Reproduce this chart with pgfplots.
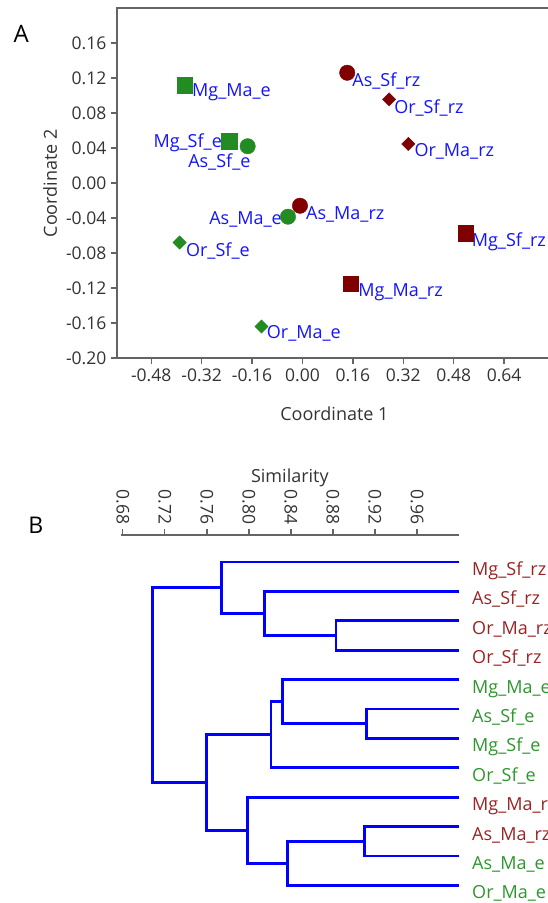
\documentclass[border=0pt]{standalone}
\usepackage{pgfplots}
\usepackage{pgfplotstable}
\pgfplotsset{compat=1.18}
\usepackage{fontspec}
\setmainfont{Open Sans}
\definecolor{mred}{RGB}{128,0,0}
\definecolor{mgreen}{RGB}{34,139,34}
\definecolor{lblue}{RGB}{20,20,255}
\definecolor{tred}{RGB}{155,35,35}
\definecolor{tgreen}{RGB}{45,150,45}
\definecolor{axgray}{RGB}{100,100,100}
\newcommand{\lf}{\fontsize{18}{21}\selectfont}
\newcommand{\tf}{\fontsize{17.5}{20}\selectfont}

\pgfplotstableread{
x y
-0.373 0.112
-0.233 0.048
}\greensq
\pgfplotstableread{
x y
-0.174 0.042
-0.046 -0.0385
}\greenci
\pgfplotstableread{
x y
-0.390 -0.068
-0.130 -0.164
}\greendi
\pgfplotstableread{
x y
0.518 -0.0575
0.153 -0.115
}\redsq
\pgfplotstableread{
x y
0.142 0.126
-0.008 -0.026
}\redci
\pgfplotstableread{
x y
0.275 0.0956
0.336 0.0446
}\reddi

\tikzset{lb/.style={text=lblue, font=\lf, inner sep=0pt},
 dend/.style={blue, line width=2.8pt, mark=none, solid, line join=miter}}

\begin{document}
\begin{tikzpicture}
\node[font=\fontsize{24}{28}\selectfont] at (21.3pt,-33.7pt) {A};
\node[font=\fontsize{23}{28}\selectfont] at (35.8pt,-525.6pt) {B};

\begin{axis}[
 at={(116.9pt,-358pt)}, anchor=south west,
 scale only axis, width=435.1pt, height=349.7pt,
 xmin=-0.589, xmax=0.792, ymin=-0.2, ymax=0.19966,
 xtick={-0.48,-0.32,-0.16,0,0.16,0.32,0.48,0.64},
 ytick={-0.20,-0.16,-0.12,-0.08,-0.04,0,0.04,0.08,0.12,0.16},
 tick pos=left, tick align=outside, major tick length=6pt,
 axis line style={axgray, line width=2pt},
 tick style={axgray, line width=1.3pt},
 ticklabel style={font=\tf, text=black!80},
 yticklabel style={xshift=-1pt},
 xticklabel style={yshift=-1pt},
 xlabel={Coordinate 1}, ylabel={Coordinate 2},
 label style={font=\lf, text=black!80},
 xlabel style={at={(axis description cs:0.5,-0.1584)}, anchor=center},
 ylabel style={at={(axis description cs:-0.1537,0.5)}, anchor=center},
 clip=false,
 /pgf/number format/fixed, /pgf/number format/fixed zerofill,
 /pgf/number format/precision=2, /pgf/number format/assume math mode=true,
]
\addplot[only marks, mark=square*, mark size=7.7pt, mgreen] table {\greensq};
\addplot[only marks, mark=*, mark size=7.7pt, mgreen] table {\greenci};
\addplot[only marks, mark=square*, mark size=4.7pt, mark options={rotate=45}, mgreen] table {\greendi};
\addplot[only marks, mark=square*, mark size=7.7pt, mred] table {\redsq};
\addplot[only marks, mark=*, mark size=7.7pt, mred] table {\redci};
\addplot[only marks, mark=square*, mark size=4.7pt, mark options={rotate=45}, mred] table {\reddi};
\node[lb, anchor=west, xshift=7pt, yshift=-7pt] at (axis cs:-0.373,0.112) {Mg\_Ma\_e};
\node[lb, anchor=east, xshift=-7pt, yshift=-2pt] at (axis cs:-0.233,0.048) {Mg\_Sf\_e};
\node[lb, anchor=east, xshift=3pt, yshift=-16pt] at (axis cs:-0.174,0.042) {As\_Sf\_e};
\node[lb, anchor=east, xshift=-6pt, yshift=-2.6pt] at (axis cs:-0.046,-0.0385) {As\_Ma\_e};
\node[lb, anchor=west, xshift=6.3pt, yshift=-8pt] at (axis cs:-0.390,-0.068) {Or\_Sf\_e};
\node[lb, anchor=west, xshift=5.2pt, yshift=-7.3pt] at (axis cs:-0.130,-0.164) {Or\_Ma\_e};
\node[lb, anchor=west, xshift=6pt, yshift=-8pt] at (axis cs:0.518,-0.0575) {Mg\_Sf\_rz};
\node[lb, anchor=west, xshift=7.6pt, yshift=-9pt] at (axis cs:0.153,-0.115) {Mg\_Ma\_rz};
\node[lb, anchor=west, xshift=5pt, yshift=-8pt] at (axis cs:0.142,0.126) {As\_Sf\_rz};
\node[lb, anchor=west, xshift=6pt, yshift=-9pt] at (axis cs:-0.008,-0.026) {As\_Ma\_rz};
\node[lb, anchor=west, xshift=5pt, yshift=-9pt] at (axis cs:0.275,0.0956) {Or\_Sf\_rz};
\node[lb, anchor=west, xshift=6pt, yshift=-7.7pt] at (axis cs:0.336,0.0446) {Or\_Ma\_rz};
\end{axis}

\begin{axis}[
 at={(120.7pt,-900.1pt)}, anchor=south west,
 scale only axis, width=338.3pt, height=365.1pt,
 xmin=0.678, xmax=1.0, ymin=-11.5, ymax=0.918,
 axis x line*=top, axis y line=none,
 xtick={0.68,0.72,0.76,0.80,0.84,0.88,0.92,0.96},
 tick align=outside, major tick length=6pt,
 axis line style={axgray, line width=2pt},
 tick style={axgray, line width=1.3pt},
 xticklabel style={font=\tf, text=black!80, rotate=-90, anchor=east, xshift=-1pt},
 xlabel={Similarity},
 xlabel style={font=\lf, text=black!80, at={(axis description cs:0.5,1.156)}, anchor=center},
 clip=false,
 /pgf/number format/fixed, /pgf/number format/fixed zerofill,
 /pgf/number format/precision=2, /pgf/number format/assume math mode=true,
]
\addplot[dend] coordinates {(1.0,-2) (0.883,-2) (0.883,-3) (1.0,-3)};
\addplot[dend] coordinates {(1.0,-1) (0.815,-1) (0.815,-2.5) (0.883,-2.5)};
\addplot[dend] coordinates {(1.0,0) (0.774,0) (0.774,-1.75) (0.815,-1.75)};
\addplot[dend] coordinates {(1.0,-5) (0.912,-5) (0.912,-6) (1.0,-6)};
\addplot[dend] coordinates {(1.0,-4) (0.832,-4) (0.832,-5.5) (0.912,-5.5)};
\addplot[dend] coordinates {(0.832,-4.75) (0.821,-4.75) (0.821,-7) (1.0,-7)};
\addplot[dend] coordinates {(1.0,-9) (0.910,-9) (0.910,-10) (1.0,-10)};
\addplot[dend] coordinates {(0.910,-9.5) (0.837,-9.5) (0.837,-11) (1.0,-11)};
\addplot[dend] coordinates {(1.0,-8) (0.799,-8) (0.799,-10.25) (0.837,-10.25)};
\addplot[dend] coordinates {(0.821,-5.875) (0.760,-5.875) (0.760,-9.125) (0.799,-9.125)};
\addplot[dend] coordinates {(0.774,-0.875) (0.708,-0.875) (0.708,-7.5) (0.760,-7.5)};
\tikzset{dl/.style={anchor=base west, font=\lf, inner sep=0pt, yshift=-13.5pt}}
\node[dl, text=tred] at (axis cs:1.0124,0) {Mg\_Sf\_rz};
\node[dl, text=tred] at (axis cs:1.0124,-1) {As\_Sf\_rz};
\node[dl, text=tred] at (axis cs:1.0124,-2) {Or\_Ma\_rz};
\node[dl, text=tred] at (axis cs:1.0124,-3) {Or\_Sf\_rz};
\node[dl, text=tgreen] at (axis cs:1.0124,-4) {Mg\_Ma\_e};
\node[dl, text=tgreen] at (axis cs:1.0124,-5) {As\_Sf\_e};
\node[dl, text=tgreen] at (axis cs:1.0124,-6) {Mg\_Sf\_e};
\node[dl, text=tgreen] at (axis cs:1.0124,-7) {Or\_Sf\_e};
\node[dl, text=tred] at (axis cs:1.0124,-8) {Mg\_Ma\_rz};
\node[dl, text=tred] at (axis cs:1.0124,-9) {As\_Ma\_rz};
\node[dl, text=tgreen] at (axis cs:1.0124,-10) {As\_Ma\_e};
\node[dl, text=tgreen] at (axis cs:1.0124,-11) {Or\_Ma\_e};
\end{axis}
\pgfresetboundingbox
\path[use as bounding box] (0,0) rectangle (547pt,-903pt);
\end{tikzpicture}
\end{document}
